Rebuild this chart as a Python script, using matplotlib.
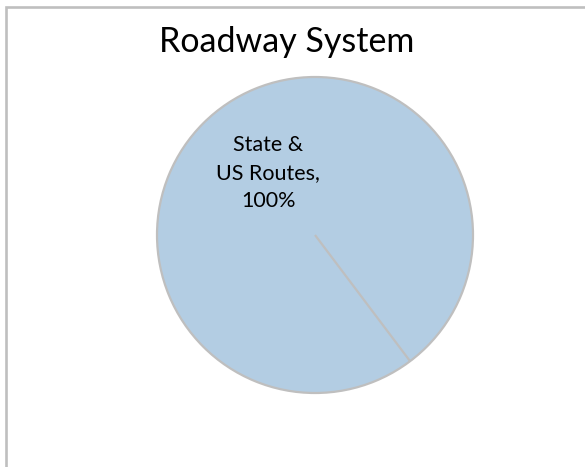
import numpy as np
import matplotlib
matplotlib.use("Agg")
import matplotlib.pyplot as plt
from matplotlib.patches import Rectangle

# data
categories = ["State &\nUS Routes", "Other"]
shares = [100, 0]
title = "Roadway System"

W, H = 585, 467
plt.rcParams['font.family'] = ['Lato', 'DejaVu Sans']

fig = plt.figure(figsize=(W / 100, H / 100), dpi=100)
ax = fig.add_axes([0, 0, 1, 1])

total = sum(shares)
labels = []
for c, v in zip(categories, shares):
    if v > 0:
        labels.append(c + ",\n" + str(round(100 * v / total)) + "%")
    else:
        labels.append("")

ax.pie(shares, labels=labels, colors=["#B3CDE3", "#B3CDE3"],
       radius=158, center=(315, H - 235), startangle=-53,
       labeldistance=0.49,
       wedgeprops=dict(edgecolor="#BFBFBF", linewidth=1.6),
       textprops=dict(ha="center", va="center", fontsize=15.5,
                      color="#000000", linespacing=1.5))

ax.set_xlim(0, W)
ax.set_ylim(0, H)
ax.set_aspect("equal")
ax.axis("off")

# chart border (cropped on right and bottom)
ax.add_patch(Rectangle((5.5, -20), 700, H - 6.5 + 20, fill=False,
                       edgecolor="#BFBFBF", linewidth=1.9, clip_on=True))

ax.text(286.5, H - 52, title, ha="center", va="baseline", fontsize=24.5,
        color="#000000")

fig.savefig("out.png", dpi=100)
